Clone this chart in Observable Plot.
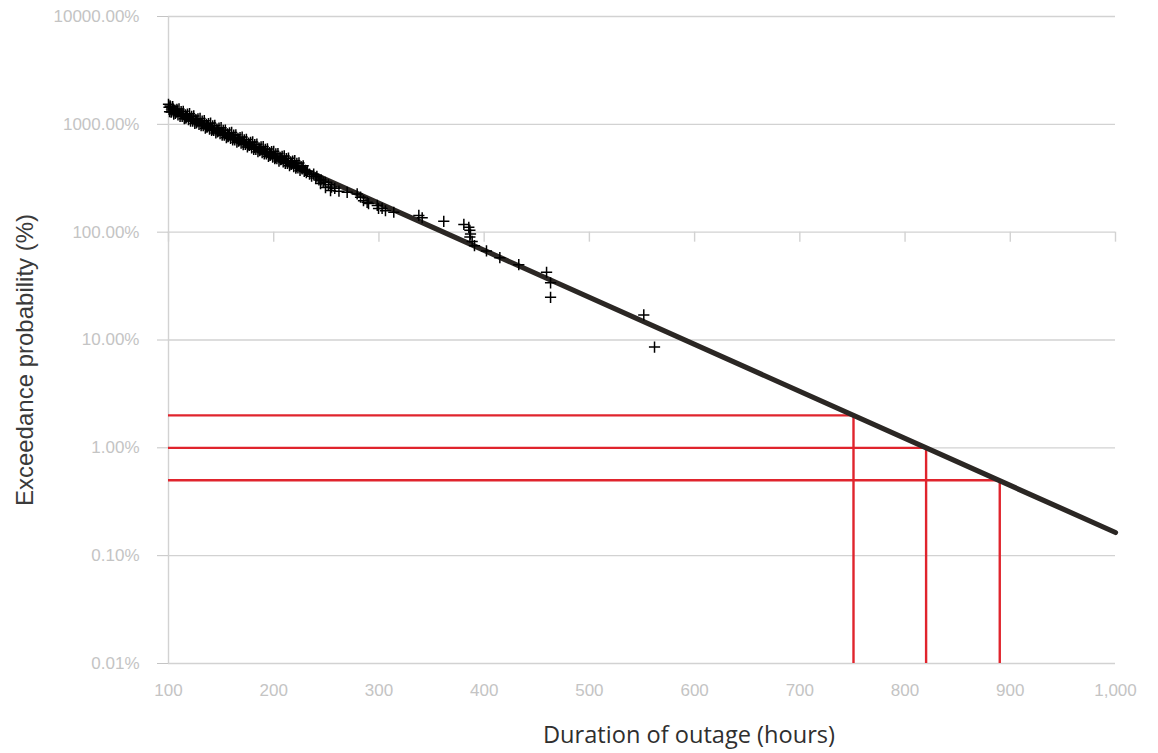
<!DOCTYPE html>
<html>
<head>
<meta charset="utf-8">
<script src="https://cdn.jsdelivr.net/npm/d3@7"></script>
<script src="https://cdn.jsdelivr.net/npm/@observablehq/plot@0.6"></script>
<style>
  html, body { margin: 0; padding: 0; background: #fff; }
  #chart svg { display: block; }
</style>
</head>
<body>
<div id="chart"></div>
<script>
// Observed outage durations (hours) and exceedance probability (%)
const observations = [
  [100,1535],[101,1310],[102,1449],[103,1311],[104,1461],[105,1246],[106,1352],[107,1287],[108,1377],[109,1222],
  [110,1389],[111,1185],[112,1311],[113,1187],[114,1322],[115,1127],[116,1223],[117,1164],[118,1245],[119,1106],
  [120,1255],[121,1072],[122,1186],[123,1073],[124,1196],[125,1019],[126,1106],[127,1052],[128,1126],[129,999],
  [130,1135],[131,970],[132,1072],[133,970],[134,1081],[135,921],[136,999],[137,952],[138,1018],[139,904],
  [140,1027],[141,877],[142,969],[143,877],[144,977],[145,833],[146,905],[147,861],[148,921],[149,818],
  [150,930],[151,793],[152,877],[153,794],[154,885],[155,754],[156,818],[157,779],[158,833],[159,740],
  [160,841],[161,718],[162,794],[163,719],[164,800],[165,682],[166,740],[167,705],[168,755],[169,670],
  [170,761],[171,649],[172,718],[173,650],[174,724],[175,617],[176,670],[177,637],[178,682],[179,606],
  [180,687],[181,587],[182,649],[183,587],[184,655],[185,558],[186,605],[187,576],[188,617],[189,547],
  [190,622],[191,531],[192,587],[193,532],[194,592],[195,505],[196,548],[197,521],[198,558],[199,495],
  [200,563],[201,480],[202,531],[203,481],[204,536],[205,456],[206,495],[207,472],[208,505],[209,448],
  [210,509],[211,434],[212,481],[213,435],[214,485],[215,413],[216,448],[217,427],[218,456],[219,405],
  [220,460],[221,393],[222,435],[223,394],[224,439],[225,374],[226,406],[227,386],[228,413],[229,366],
  [230,374],[231,356],[232,367],
  [100.5,1440],[101.5,1480],[102.5,1300],[104.5,1380],[106.5,1260],[108.5,1330],[112.5,1250],[116.5,1140],
  [121.5,1140],[126.5,1030],[131.5,1010],[136.5,940],[141.5,900],[146.5,850],[151.5,820],[156.5,770],
  [161.5,750],[166.5,700],[171.5,680],[176.5,640],[181.5,610],[186.5,570],[191.5,545],[196.5,515],
  [201.5,490],[206.5,470],[211.5,450],[216.5,425],[221.5,405],
  [234,345],[236,330],[238,345],[240,318],[241,330],[243,305],[244.5,282],[245,305],[247,292],[249,290],
  [249.2,259],[252,275],[254,243],[255,262],[258,255],[262,240],
  [269.8,234],[279.3,226],[282.5,211],[285.3,196],[288.8,189],[290.1,184],
  [298.4,177],[299.6,166],[303,166],[306.2,158],[314.1,153],[337.9,143],[341.1,136],
  [361.6,126],[380.7,118],[385.4,111],[386.4,104],[387,96],[386.4,90],[388.6,82],
  [390.8,75],[402.2,67],[414.9,58],[432.9,50],[459.3,42.5],[463.1,33.9],[463.1,24.9],
  [551.7,17.1],[561.9,8.6]
];

// Fitted exponential tail (end points of the straight line on the log axis)
const fitHours = [100, 1000];
const fitExceedance = [1380, 0.164];

// Return-level read-offs (red guide lines)
const levelExceedance = [2, 1, 0.5];
const levelHours = [751, 820, 890];

// Axis ticks
const xTicks = [100, 200, 300, 400, 500, 600, 700, 800, 900, 1000];
const yTicks = [0.01, 0.1, 1, 10, 100, 1000, 10000];

const points = observations.map(([h, p]) => ({h, p}));
const fit = fitHours.map((h, i) => ({h, p: fitExceedance[i]}));
const levels = levelHours.map((h, i) => ({h, p: levelExceedance[i]}));

const grid = "#d2d2d2";
const tickText = "#c4c4c4";
const red = "#e0242d";

const chart = Plot.plot({
  width: 1158,
  height: 753,
  marginLeft: 168,
  marginRight: 43,
  marginTop: 16,
  marginBottom: 90,
  style: {fontFamily: "'Liberation Sans', Arial, sans-serif", background: "#fff"},
  x: {domain: [100, 1000]},
  y: {type: "log", domain: [0.01, 10000]},
  marks: [
    Plot.ruleY(yTicks, {stroke: grid, strokeWidth: 1.4}),
    Plot.ruleX([100], {stroke: grid, strokeWidth: 1.4}),
    Plot.ruleX(xTicks, {x: d => d, y1: 100, y2: 100, insetBottom: -10, stroke: grid, strokeWidth: 1.4}),
    Plot.axisY({ticks: yTicks, tickFormat: d => d.toFixed(2) + "%", tickSize: 11, tickPadding: 18,
      fontSize: 17, color: tickText, label: null}),
    Plot.axisX({ticks: xTicks, tickFormat: d3.format(","), tickSize: 0, tickPadding: 20,
      fontSize: 17, color: tickText, label: null}),
    Plot.ruleY(levels, {y: "p", x1: 100, x2: "h", stroke: red, strokeWidth: 2.4}),
    Plot.ruleX(levels, {x: "h", y1: 0.01, y2: "p", stroke: red, strokeWidth: 2.4}),
    Plot.line(fit, {x: "h", y: "p", stroke: "#2b2724", strokeWidth: 5.2}),
    Plot.dot(points, {x: "h", y: "p", symbol: "plus", r: 3.7, stroke: "#000", strokeWidth: 1.5})
  ]
});

const svg = d3.select(chart);
svg.append("text")
  .attr("transform", "translate(33,360) rotate(-90)")
  .attr("text-anchor", "middle")
  .attr("font-family", "'Liberation Sans', Arial, sans-serif")
  .attr("font-size", 24)
  .attr("fill", "#3a3a3a")
  .text("Exceedance probability (%)");
svg.append("text")
  .attr("x", 689)
  .attr("y", 743)
  .attr("text-anchor", "middle")
  .attr("font-family", "'Open Sans', sans-serif")
  .attr("font-size", 24)
  .attr("fill", "#2f2f2f")
  .attr("textLength", 292)
  .attr("lengthAdjust", "spacingAndGlyphs")
  .text("Duration of outage (hours)");

document.getElementById("chart").appendChild(chart);
</script>
</body>
</html>
